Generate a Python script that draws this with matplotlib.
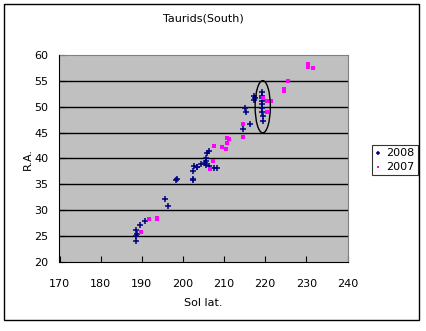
import numpy as np
from matplotlib import pyplot as plt
from matplotlib.patches import Ellipse, Rectangle

# 2008 observations (Sol lat., R.A.)
sol_2008 = [188.7, 188.7, 188.8, 188.7, 189.5, 190.8, 195.7, 196.4, 198.3, 198.6,
            202.4, 202.5, 202.5, 202.7, 203.3, 203.5, 204.3, 205.4, 205.5, 205.5,
            205.5, 206.4, 207.6, 208.4, 205.9, 206.3, 214.5, 215.2, 215.3, 216.3,
            217.3, 217.4, 217.3, 219.2, 219.2, 219.2, 219.3, 219.2, 219.3, 219.3,
            219.4, 219.4]
ra_2008 = [24.0, 25.1, 25.4, 26.2, 27.1, 27.9, 32.1, 30.8, 35.8, 36.0,
           37.5, 35.8, 36.1, 38.5, 38.4, 38.3, 38.9, 39.1, 39.5, 40.0,
           38.8, 38.5, 38.1, 38.1, 41.1, 41.4, 45.7, 49.7, 49.0, 46.6,
           51.4, 51.7, 52.0, 52.9, 52.1, 51.6, 51.1, 50.5, 49.7, 49.0,
           48.2, 47.3]

# 2007 observations
sol_2007 = [189.8, 191.8, 193.6, 193.6, 206.6, 207.4, 207.6, 209.5, 210.5, 210.6,
            210.6, 211.3, 214.5, 214.5, 219.5, 220.4, 221.3, 220.4, 224.6, 224.6,
            225.5, 230.4, 230.4, 231.5]
ra_2007 = [25.8, 28.3, 28.3, 28.5, 38.0, 39.5, 42.4, 42.2, 41.8, 42.9,
           44.0, 43.8, 44.2, 46.7, 51.6, 51.1, 51.2, 49.0, 53.4, 53.1,
           55.0, 58.3, 57.7, 57.5]

# hand-drawn highlight around the 2008 cluster
highlight_center = (219.4, 50.0)
highlight_size = (3.7, 10.1)

plt.rcParams['font.family'] = ['DejaVu Sans']
fig = plt.figure(figsize=(4.26, 3.31), dpi=100)
fig.patch.set_facecolor('white')
fig.patches.append(Rectangle((4 / 426, 11 / 331), 415 / 426, 316 / 331, transform=fig.transFigure,
                             fill=False, edgecolor='black', linewidth=1))

ax = fig.add_axes([59.5 / 426, 1 - 262 / 331, 288 / 426, 207 / 331])
ax.set_facecolor('#C0C0C0')
ax.set_xlim(170, 240)
ax.set_ylim(20, 60)
ax.set_xticks(np.arange(170, 241, 10))
ax.set_yticks(np.arange(20, 61, 5))
for y in range(25, 60, 5):
    ax.axhline(y, color='black', linewidth=1, zorder=1)

ax.scatter(sol_2008, ra_2008, marker='+', s=14, linewidths=1.1, color='#000080', label='2008', zorder=3)
ax.scatter(sol_2007, ra_2007, marker='s', s=5, linewidths=0, color='#FF00FF', label='2007', zorder=3)
ax.add_patch(Ellipse(highlight_center, highlight_size[0], highlight_size[1], fill=False,
                     edgecolor='black', linewidth=1, zorder=4))

ax.spines['top'].set_color('#808080')
ax.spines['right'].set_color('#808080')
ax.spines['bottom'].set_color('black')
ax.spines['left'].set_color('black')
ax.tick_params(direction='in', length=4, labelsize=8)
ax.tick_params(axis='x', pad=12)
ax.tick_params(axis='y', pad=8)

ax.set_title('Taurids(South)', fontsize=8, pad=24)
ax.set_xlabel('Sol lat.', fontsize=8, labelpad=7)
ax.set_ylabel('R.A.', fontsize=8, labelpad=1)

leg = fig.legend(loc='center left', bbox_to_anchor=(366 / 426, 1 - 160 / 331), fontsize=8,
                 frameon=True, fancybox=False, edgecolor='black', handlelength=0.6,
                 handletextpad=0.4, borderpad=0.3, labelspacing=0.3, markerscale=0.8)
leg.get_frame().set_linewidth(0.8)

fig.savefig('out.png', dpi=100)
